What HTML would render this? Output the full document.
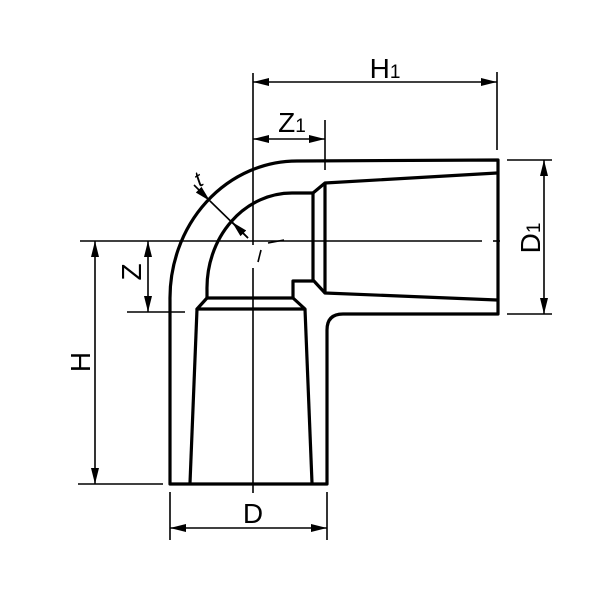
<!DOCTYPE html>
<html><head><style>body{margin:0;background:#fff}svg{display:block}</style></head>
<body>
<svg width="600" height="600" viewBox="0 0 600 600" xmlns="http://www.w3.org/2000/svg">
<defs>
<marker id="a" viewBox="0 0 16 8" refX="16" refY="4" markerWidth="16" markerHeight="8" markerUnits="userSpaceOnUse" orient="auto-start-reverse"><path d="M0,0 L16,4 L0,8 z" fill="#000"/></marker>
</defs>
<g fill="none" stroke="#000" stroke-width="3.2" stroke-linejoin="round">
<path d="M170,484 L170,300 A127,137 0 0 1 297,161 L498,160 L498,314 L343,314 Q327,314 327,330 L327,484 Z"/>
<path d="M207,298 L207,290 A85,95 0 0 1 292,193 L313,193 L313,280 L325,293"/>
<path d="M207,298 L293,298 L293,281 L313,281"/>
<path d="M313,193 L325,183 L497,173"/>
<path d="M325,183 L325,293 L497,300"/>
<path d="M207,298 L197,309 L305,309 L293,298"/>
<path d="M197,309 L190,483"/>
<path d="M305,309 L312,483"/>
</g>
<g fill="none" stroke="#000" stroke-width="1.6">
<line x1="80" y1="241" x2="482" y2="241"/>
<line x1="493" y1="241" x2="500" y2="241"/>
<line x1="253" y1="73" x2="253" y2="245"/>
<line x1="253" y1="268" x2="253" y2="493"/>
<path d="M258,262 L261,250"/>
<path d="M268,243 L284,240"/>
<line x1="497" y1="72" x2="497" y2="150"/>
<line x1="325" y1="120" x2="325" y2="170"/>
<line x1="507" y1="160" x2="552" y2="160"/>
<line x1="507" y1="314" x2="552" y2="314"/>
<line x1="127" y1="312" x2="185" y2="312"/>
<line x1="78" y1="484" x2="163" y2="484"/>
<line x1="170" y1="492" x2="170" y2="540"/>
<line x1="327" y1="492" x2="327" y2="540"/>
<line x1="253" y1="82" x2="497" y2="82" marker-start="url(#a)" marker-end="url(#a)"/>
<line x1="253" y1="139" x2="325" y2="139" marker-start="url(#a)" marker-end="url(#a)"/>
<line x1="544" y1="160" x2="544" y2="314" marker-start="url(#a)" marker-end="url(#a)"/>
<line x1="95" y1="241" x2="95" y2="484" marker-start="url(#a)" marker-end="url(#a)"/>
<line x1="148" y1="241" x2="148" y2="312" marker-start="url(#a)" marker-end="url(#a)"/>
<line x1="170" y1="528" x2="327" y2="528" marker-start="url(#a)" marker-end="url(#a)"/>
<line x1="194" y1="185" x2="210" y2="201" marker-end="url(#a)"/>
<line x1="210" y1="201" x2="248" y2="238"/>
<line x1="248" y1="238" x2="232" y2="222" marker-end="url(#a)"/>
</g>
<g font-family="Liberation Sans, sans-serif" font-size="28" fill="#000">
<text x="385" y="78" text-anchor="middle">H<tspan font-size="19">1</tspan></text>
<text x="292" y="132" text-anchor="middle">Z<tspan font-size="19">1</tspan></text>
<text x="253" y="523" text-anchor="middle">D</text>
<text transform="translate(540,238) rotate(-90)" text-anchor="middle">D<tspan font-size="19">1</tspan></text>
<text transform="translate(90,362) rotate(-90)" text-anchor="middle">H</text>
<text transform="translate(141,272) rotate(-90)" text-anchor="middle">Z</text>
<text x="196" y="186" font-size="22" font-style="italic" transform="rotate(-30 200 180)">t</text>
</g>
</svg>
</body></html>
